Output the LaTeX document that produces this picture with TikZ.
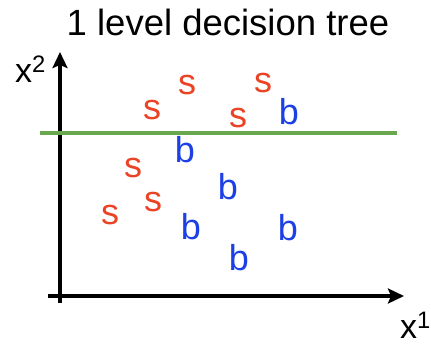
\documentclass[tikz,border=0pt]{standalone}
\usepackage{fontspec}
\setmainfont{Liberation Sans}
\usetikzlibrary{arrows.meta}
\definecolor{sred}{RGB}{234,67,37}
\definecolor{bblue}{RGB}{28,64,230}
\definecolor{cutgreen}{RGB}{106,168,79}
\tikzstyle{axis}=[draw,line width=4pt,-{Stealth[length=16pt,width=15pt,inset=3pt]}]
\tikzstyle{cut}=[draw,line width=4pt,cutgreen]
\tikzstyle{pt}=[inner sep=0pt,font=\fontsize{36}{40}\selectfont]
\tikzstyle{lbl}=[inner sep=0pt,anchor=base west,font=\fontsize{34}{40}\selectfont]

\begin{document}
\begin{tikzpicture}[x=1pt,y=-1pt]

    \useasboundingbox (0,0) rectangle (431,345);

    \node[inner sep=0pt, anchor=base, font=\fontsize{36.5}{40}\selectfont] (title) at (228,36) {1 level decision tree};

    % axes
    \coordinate (ybot) at (60,303);
    \coordinate (ytip) at (60,52);
    \coordinate (xleft) at (48,296);
    \coordinate (xtip) at (404,296);
    \path[axis] (ybot) -- (ytip);
    \path[axis] (xleft) -- (xtip);
    \node[lbl] (xtwo) at (15,82) {x\textsuperscript{2}};
    \node[lbl] (xone) at (400,338) {x\textsuperscript{1}};

    % the split
    \coordinate (cutl) at (40,133);
    \coordinate (cutr) at (397,133);
    \path[cut] (cutl) -- (cutr);

     \foreach \x/\y/\name in {152/110/s1, 187/85/s2, 263/83/s3, 238/118/s4, 133/168/s5, 153/202/s6, 110/215/s7}
        \node[pt, sred] (\name) at (\x,\y) {s};

     \foreach \x/\y/\name in {289/112/b1, 185/150/b2, 228/187/b3, 191/227/b4, 288/228/b5, 239/258/b6}
        \node[pt, bblue] (\name) at (\x,\y) {b};

\end{tikzpicture}
\end{document}
